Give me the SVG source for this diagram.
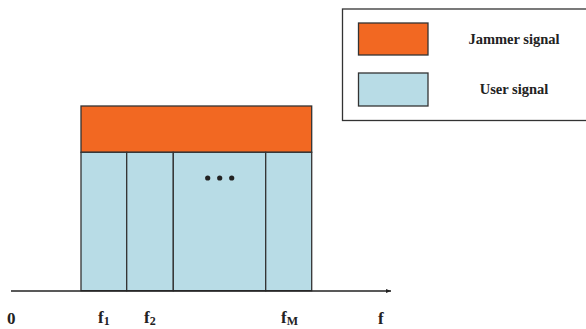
<svg xmlns="http://www.w3.org/2000/svg" width="586" height="329" viewBox="0 0 586 329">
<defs>
<style>
.lbl{font-weight:bold;fill:#222;}
.jam{fill:#f26822;stroke:#333;stroke-width:1.3;}
.usr{fill:#b8dce6;stroke:#333;stroke-width:1.3;}
.ln{stroke:#222;stroke-width:1.6;fill:none;}
</style>
<marker id="arr" markerWidth="6" markerHeight="6" refX="5" refY="3" orient="auto" markerUnits="userSpaceOnUse">
<path d="M0,1 L5,3 L0,5 Z" fill="#222"/>
</marker>
</defs>
<rect width="586" height="329" fill="#fff"/>
<g id="legend" font-family="'Liberation Serif', 'DejaVu Serif', serif">
<rect x="342.5" y="9" width="250" height="111.5" fill="#fff" stroke="#333" stroke-width="1.3"/>
<rect class="jam" x="358.5" y="23" width="69.5" height="32"/>
<rect class="usr" x="358.5" y="73" width="69.5" height="33"/>
<text class="lbl" x="514" y="44" font-size="14.5" text-anchor="middle">Jammer signal</text>
<text class="lbl" x="514" y="94" font-size="14.5" text-anchor="middle">User signal</text>
</g>
<g id="jammer">
<rect class="jam" x="81" y="106" width="230.7" height="46.3"/>
</g>
<g id="user1"><rect class="usr" x="81" y="152.3" width="45.7" height="138.4"/></g>
<g id="user2"><rect class="usr" x="126.7" y="152.3" width="46.6" height="138.4"/></g>
<g id="userMid"><rect class="usr" x="173.3" y="152.3" width="92.4" height="138.4"/>
<circle cx="207.7" cy="178" r="2.6" fill="#222"/>
<circle cx="219.7" cy="178" r="2.6" fill="#222"/>
<circle cx="231.7" cy="178" r="2.6" fill="#222"/>
</g>
<g id="userM"><rect class="usr" x="265.7" y="152.3" width="46" height="138.4"/></g>
<g id="connectors">
<line class="ln" x1="11" y1="291" x2="391" y2="291" marker-end="url(#arr)"/>
</g>
<g id="axis-labels" font-family="'Liberation Serif', 'DejaVu Serif', serif">
<text class="lbl" x="7" y="324" font-size="17">0</text>
<text class="lbl" x="98" y="323" font-size="17">f<tspan font-size="12" dy="2">1</tspan></text>
<text class="lbl" x="144" y="323" font-size="17">f<tspan font-size="12" dy="2">2</tspan></text>
<text class="lbl" x="281" y="323" font-size="17">f<tspan font-size="12" dy="2">M</tspan></text>
<text class="lbl" x="378" y="324" font-size="17">f</text>
</g>
</svg>
